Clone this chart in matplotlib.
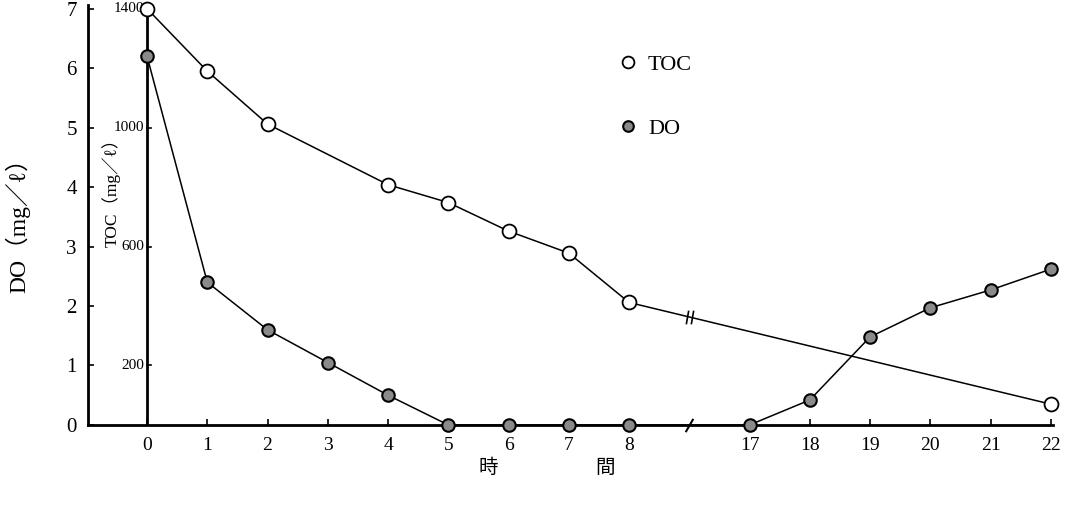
import matplotlib.pyplot as plt
import numpy as np

plt.rcParams['font.family'] = ['Liberation Serif', 'Noto Sans CJK JP', 'DejaVu Sans']

# hours as printed on the axis (8 -> 17 is cut out)
hours = [0, 1, 2, 3, 4, 5, 6, 7, 8, 17, 18, 19, 20, 21, 22]
pos = [0, 1, 2, 3, 4, 5, 6, 7, 8, 10, 11, 12, 13, 14, 15]
break_pos = 9

do_vals = [6.2, 2.4, 1.6, 1.05, 0.5, 0, 0, 0, 0, 0, 0.42, 1.48, 1.97, 2.27, 2.62]

toc_hours = [0, 1, 2, 4, 5, 6, 7, 8, 22]
toc_vals = [1400, 1190, 1012, 808, 748, 652, 578, 412, 70]

toc_ticks = [200, 600, 1000, 1400]
do_ticks = [0, 1, 2, 3, 4, 5, 6, 7]
toc_per_do = 200.0

fig = plt.figure(figsize=(10.73, 5.12), dpi=100)
ax = fig.add_axes([0.082, 0.170, 0.899, 0.820])

hpos = dict(zip(hours, pos))
toc_x = [hpos[h] for h in toc_hours]
toc_y = np.array(toc_vals) / toc_per_do

ax.plot(toc_x, toc_y, color='black', lw=1.1, marker='o', ms=10,
        mfc='white', mec='black', mew=1.3, zorder=4, clip_on=False, label='TOC')
ax.plot(pos, do_vals, color='black', lw=1.1, marker='o', ms=9,
        mfc='#8a8a8a', mec='black', mew=1.5, zorder=4, clip_on=False, label='DO')

# break marks on the TOC line (double stroke) and on the x axis
yb = np.interp(break_pos, toc_x, toc_y)
for dx in (-0.04, 0.04):
    ax.plot([break_pos + dx], [yb], marker=(2, 0, -10), ms=10, mew=1.2,
            color='black', zorder=5)
ax.plot([break_pos], [0], marker=(2, 0, -30), ms=11, mew=1.5,
        color='black', zorder=5, clip_on=False)

ax.set_xlim(-0.98, 15.03)
ax.set_ylim(0, 7.06)
ax.set_xticks(pos)
ax.set_xticklabels([str(h) for h in hours], fontsize=14)
ax.set_yticks(do_ticks)
ax.set_yticklabels([str(t) for t in do_ticks], fontsize=15)
ax.tick_params(axis='both', direction='in', length=4, width=1.2, pad=8)
ax.tick_params(axis='x', pad=9)
for s in ['top', 'right']:
    ax.spines[s].set_visible(False)
ax.spines['left'].set_linewidth(2)
ax.spines['bottom'].set_linewidth(2)

# inner TOC axis at hour 0
ax.axvline(0, color='black', lw=2, zorder=3)
for t in toc_ticks:
    yt = t / toc_per_do
    ax.plot([0, 0.06], [yt, yt], color='black', lw=1.2)
    ax.text(-0.05, yt, str(t), ha='right', va='center', fontsize=11)

ax.text(-0.6, 3.98, 'TOC（mg／ℓ）', rotation=90, ha='center', va='center',
        fontsize=12.5, family=['Liberation Serif', 'Noto Sans CJK JP'])
fig.text(0.017, 0.57, 'DO（mg／ℓ）', rotation=90, ha='center', va='center',
         fontsize=17, family=['Liberation Serif', 'Noto Sans CJK JP'])
fig.text(0.51, 0.087, '時　　　　　間', ha='center', va='center', fontsize=14,
         family=['Noto Sans CJK JP'])

ax.legend(loc='upper left', bbox_to_anchor=(0.539, 0.93), frameon=False,
          handlelength=0, handletextpad=0.9, labelspacing=1.95,
          fontsize=16, markerscale=0.85)

fig.savefig('out.png', dpi=100)
